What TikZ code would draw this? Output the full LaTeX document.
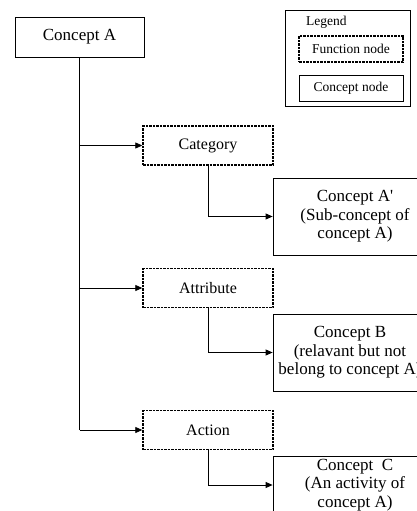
\documentclass[tikz,border=0pt]{standalone}
\usepackage{fontspec}
\setmainfont{Liberation Serif}
\usetikzlibrary{arrows.meta}
\begin{document}
\begin{tikzpicture}[x=1pt,y=-1pt,
 concept/.style={draw, line width=0.8pt, inner sep=0pt, align=center, font=\fontsize{17}{18.5}\selectfont},
 func/.style={draw, line width=1.4pt, dash pattern=on 2.5pt off 1pt, inner sep=0pt, minimum width=130pt, minimum height=39pt, font=\fontsize{16}{18}\selectfont},
 lgtext/.style={font=\fontsize{13.5}{16}\selectfont, inner sep=0pt},
 link/.style={line width=0.8pt, -{Triangle[length=7pt,width=6pt]}},
 trunk/.style={line width=1.6pt}]
\useasboundingbox (0,0) rectangle (417,511);
\clip (0,0) rectangle (417,511);
% main concept
\node[concept, minimum width=129pt, minimum height=40pt] (conceptA) at (79.5,37) {Concept A};
% legend
\node[draw, line width=0.7pt, minimum width=125pt, minimum height=96pt, inner sep=0pt] (legend) at (347.5,58) {};
\node[lgtext, anchor=west] (legendtitle) at (306,22) {Legend};
\node[draw, lgtext, line width=1.2pt, dash pattern=on 2.5pt off 1pt, minimum width=104pt, minimum height=26pt] (fnode) at (351,49) {Function node};
\node[draw, lgtext, line width=1pt, minimum width=104pt, minimum height=26pt] (cnode) at (351,88) {Concept node};
% function nodes
\node[func] (category) at (208,145.5) {Category};
\node[func] (attribute) at (208,288) {Attribute};
\node[func] (action) at (208,430) {Action};
% concept nodes
\node[concept, minimum width=164pt, minimum height=77pt] (conceptAp) at (355,216.5) {Concept A\textquotesingle\\(Sub-concept of\\concept A)};
\node[concept, minimum width=154pt, minimum height=77pt] (conceptB) at (350,352.5) {Concept B\\(relavant but not\\belong to concept A)};
\node[draw, line width=0.8pt, minimum width=164pt, minimum height=77pt, inner sep=0pt] (conceptC) at (355,494.5) {};
\node[concept, draw=none] (conceptCtext) at (355,485) {Concept\ \ C\\(An activity of\\concept A)};
% trunk
\coordinate (trunkend) at (conceptA.south |- action.west);
\draw[trunk] (conceptA.south) -- (trunkend);
\draw[link] (conceptA.south |- category.west) -- (category.west);
\draw[link] (conceptA.south |- attribute.west) -- (attribute.west);
\draw[link] (trunkend) -- (action.west);
% branches
\draw[link] (category.south) |- (conceptAp.west);
\draw[link] (attribute.south) |- (conceptB.west);
\draw[link] (action.south) |- (conceptC.west |- 0,485);
\end{tikzpicture}
\end{document}
